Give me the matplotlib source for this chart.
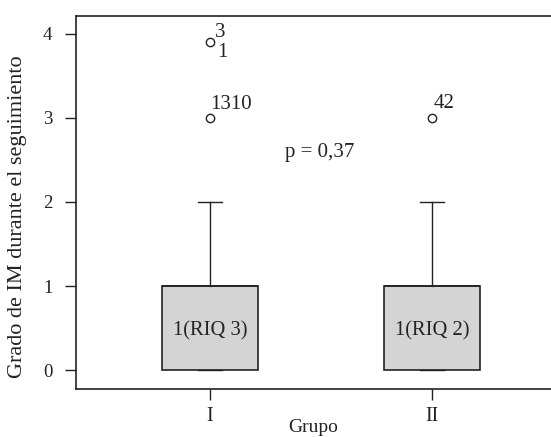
import matplotlib.pyplot as plt

# data
groups = ['I', 'II']
q1 = [0, 0]
median = [1, 1]
q3 = [1, 1]
whisker_low = [0, 0]
whisker_high = [2, 2]
fliers = [[3.9, 3.0], [3.0]]
box_labels = ['1(RIQ 3)', '1(RIQ 2)']
p_text = 'p = 0,37'

plt.rcParams['font.family'] = ['Liberation Serif', 'DejaVu Serif']
plt.rcParams['font.size'] = 12

ink = '#222222'
fig = plt.figure(figsize=(5.51, 4.37), dpi=100)
ax = fig.add_axes([76 / 551, 1 - 389 / 437, 1 - 76 / 551, (389 - 16) / 437])

stats = []
for i in range(len(groups)):
    stats.append(dict(q1=q1[i], med=median[i], q3=q3[i], whislo=whisker_low[i],
                      whishi=whisker_high[i], fliers=fliers[i], label=groups[i]))

pos = [1, 2]
ax.bxp(stats, positions=pos, widths=0.43, patch_artist=True, showfliers=True,
       boxprops=dict(facecolor='#d4d4d4', edgecolor=ink, linewidth=1.2),
       medianprops=dict(color=ink, linewidth=1.2),
       whiskerprops=dict(color=ink, linewidth=1.0),
       capprops=dict(color=ink, linewidth=1.0),
       capwidths=0.11,
       flierprops=dict(marker='o', markersize=6, markerfacecolor='none',
                       markeredgecolor=ink, markeredgewidth=1.0))

# box annotations
for i in range(len(groups)):
    ax.text(pos[i], 0.415, box_labels[i], ha='center', va='baseline',
            fontsize=14.8, color=ink)

# outlier case numbers
fs = 15
ax.text(1.02, fliers[0][0] + 0.12, '3', fontsize=fs, color=ink, ha='left', va='center')
ax.text(1.03, fliers[0][0] - 0.12, '1', fontsize=fs, color=ink, ha='left', va='center')
ax.text(1.0, fliers[0][1] + 0.16, '1310', fontsize=fs, color=ink, ha='left', va='center')
ax.text(2.005, fliers[1][0] + 0.17, '42', fontsize=fs, color=ink, ha='left', va='center')

ax.text(1.495, 2.535, p_text, ha='center', va='baseline', fontsize=fs, color=ink)

ax.set_xlim(0.396, 2.536)
ax.set_ylim(-0.226, 4.214)
ax.set_xticks(pos)
ax.set_xticklabels(groups)
ax.set_yticks([0, 1, 2, 3, 4])
ax.tick_params(direction='out', length=8, width=1.0, colors=ink, labelsize=13.5, pad=6)
ax.tick_params(axis='x', labelsize=14.5, pad=5)
ax.tick_params(axis='y', pad=9)
for s in ['left', 'top', 'bottom']:
    ax.spines[s].set_color(ink)
    ax.spines[s].set_linewidth(1.2)
ax.spines['right'].set_visible(False)

ax.set_xlabel('Grupo', fontsize=14, color=ink, labelpad=-5)
ax.set_ylabel('Grado de IM durante el seguimiento', fontsize=16, color=ink)
ax.yaxis.set_label_coords(-0.104, 0.462)

plt.savefig('out.png', dpi=100)
